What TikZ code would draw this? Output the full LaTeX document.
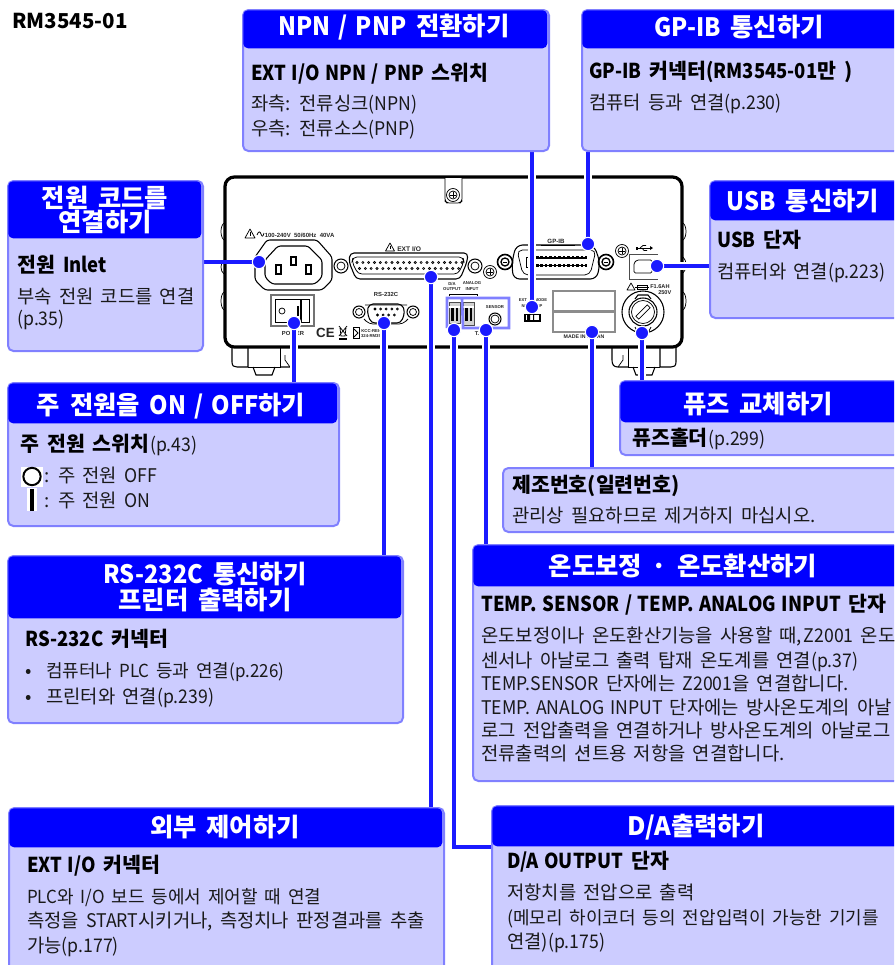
\documentclass[tikz,border=0pt]{standalone}
\usepackage{fontspec}
\setmainfont{Noto Sans CJK KR}[WordSpace=1.7]
\newfontfamily\devfont{Liberation Sans}[Scale=1]
\newfontfamily\latsub{Noto Sans CJK KR}[FakeStretch=0.9,WordSpace=1.3]
\newfontfamily\lattitle{Noto Sans CJK KR}[FakeStretch=0.93,WordSpace=1.5]
\newfontfamily\latbody{Noto Sans CJK KR}[FakeStretch=0.94,WordSpace=1.4]
\newcommand\lb[1]{{\latsub #1}}
\newcommand\lt[1]{{\lattitle #1}}
\newcommand\lr[1]{{\latbody #1}}
\pgfdeclarelayer{devicelayer}
\pgfdeclarelayer{linklayer}
\pgfsetlayers{devicelayer,linklayer,main}
\definecolor{hblue}{HTML}{0000FF}
\definecolor{lblue}{HTML}{1A1AFF}
\definecolor{bfill}{HTML}{CCCCFF}
\definecolor{bedge}{HTML}{8080FF}
\newcounter{tn}
\newcommand\say[4]{\stepcounter{tn}\node[#1] (t\arabic{tn}) at (#2,#3) {#4};}
\newcommand\ibox[5]{\node[bodybox,anchor=north west,minimum width={(#4-#2)*0.75pt},minimum height={(#5-#3)*0.75pt}] (#1) at (#2,#3) {};}
\newcommand\ihead[5]{\node[headbox,anchor=north west,minimum width={(#4-#2-2)*0.75pt},minimum height={(#5-#3-1)*0.75pt}] (#1) at (#2+1,#3+1) {};}
\newcommand\tinyfont[1]{\devfont\bfseries\fontsize{#1}{#1}\selectfont}
\tikzset{
 bodybox/.style={draw=bedge,fill=bfill,line width=1.5pt,rounded corners=4pt,inner sep=0},
 headbox/.style={fill=hblue,rounded corners=3.5pt,inner sep=0},
 ttl/.style={anchor=base,inner sep=0,text=white,font=\bfseries\fontsize{19}{22}\selectfont},
 subh/.style={anchor=base west,inner sep=0,text=black,font=\bfseries\fontsize{15.4}{18}\selectfont},
 bodyt/.style={anchor=base west,inner sep=0,text=black!90,font=\fontsize{14.1}{17}\selectfont},
 bodys/.style={bodyt,font=\fontsize{13.5}{17}\selectfont},
 link/.style={draw=lblue,line width=3pt,preaction={draw=white,line width=6.5pt}},
 linkp/.style={draw=lblue,line width=3pt},
 pdot/.style={circle,fill=lblue,draw=white,line width=0.8pt,minimum size=10pt,inner sep=0},
 dev/.style={draw=black,line width=0.55pt},
 devb/.style={draw=black,line width=0.8pt},
 devt/.style={anchor=center,inner sep=0,text=black!85},
}
\begin{document}
\begin{tikzpicture}[x=0.75pt,y=-0.75pt]
\path[use as bounding box,clip] (0,0) rectangle (894,965);
\begin{pgfonlayer}{devicelayer}
 \fill[white] (0,0) rectangle (894,965);
 % body
 \draw[black,line width=2.4pt,rounded corners=7pt] (225,347) -- (225,177) -- (682,177) -- (682,347) -- cycle;
 % side bumps
 \foreach \a/\b in {223/240,260/274,292/310}{
  \draw[dev] (224,\a) .. controls (220,\a+3) and (220,\b-3) .. (224,\b);
 }
 \foreach \a/\b in {223/240,257/273,292/310}{
  \draw[dev] (683,\a) .. controls (687,\a+3) and (687,\b-3) .. (683,\b);
 }
 % top bracket and screw
 \draw[dev,rounded corners=1.5pt,fill=white] (445,178) -- (445,201) -- (447,203) -- (460,203) -- (462,201) -- (462,178);
 \draw[dev] (453,195) circle[radius=6.5];
 \draw[dev] (453,195) circle[radius=4];
 \draw[dev] (450,195) -- (456,195) (453,192) -- (453,198);
 % feet
 \foreach \o/\s in {232/1,676/-1}{
  \begin{scope}[shift={(\o,0)},xscale=\s]
  \draw[devb] (0,348) -- (0,362) .. controls (0,366) and (2,367) .. (5,367) -- (16,367) -- (16,348);
  \draw[dev] (16,367) -- (48,367) -- (48,348);
  \draw[devb] (21,367) -- (24,375) -- (40,375) -- (43,367);
  \draw[devb] (48,367) -- (58,367) .. controls (62,367) and (64,365) .. (64,360) -- (64,348);
  \draw[dev] (58,367) -- (53,360) -- (53,355);
  \end{scope}
 }
 % AC label
 \draw[dev,line join=round] (250,229) -- (245,238) -- (255,238) -- cycle;
 \draw[dev] (250,232) -- (250,236);
 \draw[dev] (257,235) .. controls (258.5,231) and (260,231) .. (261,234) .. controls (262,237) and (263,237) .. (264,233);
 \node[devt,anchor=west,font=\tinyfont{4.5}] (acl) at (264.5,235) {100-240V\ \ 50/60Hz\ \ 40VA};
 % inlet
 \draw[devb,line join=round,rounded corners=2pt] (267,240) -- (317,240) -- (332,257) -- (332,280) -- (322,290) -- (265,290) -- (255,280) -- (255,257) -- cycle;
 \draw[devb,line join=round,rounded corners=2pt] (278,246) -- (308,246) -- (322,260) -- (322,277) -- (315,284) -- (272,284) -- (265,277) -- (265,260) -- cycle;
 \draw[devb] (276,265) rectangle (281,274) (291,257) rectangle (296,265) (306,265) rectangle (311,274);
 % power switch
 \draw[draw=black!55,line width=1pt] (271,295) rectangle (314,326);
 \draw[dev] (275,299) rectangle (309,322);
 \draw[black,line width=0.8pt] (301,299) -- (301,322);
 \draw[dev] (282,311) circle[radius=3];
 \draw[black,line width=1pt] (298,306) -- (298,316);
 \node[devt,font=\tinyfont{4.4}] (powl) at (293,333) {POWER};
 % CE, bin, KC
 \node[devt,font=\tinyfont{10}] (cem) at (325.5,333) {CE};
 \draw[dev] (339,326) -- (347,336) (347,326) -- (339,336) (340,328) -- (341,336) -- (345,336) -- (346,328);
 \fill[black] (339,337.5) rectangle (347,339.5);
 \draw[dev] (353,327) -- (359,327) -- (359,338) -- (353,338) -- cycle;
 \draw[dev] (354,329) -- (358,333) -- (354,337);
 \node[devt,font=\tinyfont{3.2}] (kc1) at (371,331) {KCC-REI-};
 \node[devt,font=\tinyfont{3.2}] (kc2) at (371,336) {324-RM35};
 % RS-232C
 \node[devt,font=\tinyfont{4.4}] (rsl) at (386,294.5) {RS-232C};
 \foreach \x in {359,413}{
  \draw[devb] (\x,312) circle[radius=6];
  \draw[dev] (\x,312) circle[radius=3.5];
 }
 \draw[dev,rounded corners=3pt] (365,305) -- (407,305) (364,319) -- (369,324) -- (403,324) -- (408,319);
 \draw[devb,rounded corners=3pt] (369,304) -- (402,304) -- (405,312) -- (401,323) -- (371,323) -- (367,312) -- cycle;
 \foreach \x in {0,...,4}{\draw[dev] (375+\x*5.6,309) circle[radius=1];}
 \foreach \x in {0,...,3}{\draw[dev] (377.5+\x*5.6,315) circle[radius=1];}
 % EXT I/O
 \draw[dev,line join=round] (390,243) -- (385.5,251) -- (394.5,251) -- cycle;
 \draw[dev] (390,246) -- (390,249);
 \node[devt,anchor=west,font=\tinyfont{5}] (extl) at (397,249) {EXT I/O};
 \foreach \x in {341,475}{
  \draw[devb] (\x,266) circle[radius=7];
  \draw[dev] (\x,266) circle[radius=4];
 }
 \draw[devb,rounded corners=3pt] (350,253) -- (468,253) -- (467,262) -- (460,279) -- (356,279) -- (349,262) -- cycle;
 \draw[dev,rounded corners=3pt] (353,257) -- (463,257) -- (464,262) -- (458,274) -- (358,274) -- (352,262) -- cycle;
 \foreach \x in {0,...,18}{\draw[dev,line width=0.5pt] (357+\x*5.83,262.5) circle[radius=1.1];}
 \foreach \x in {0,...,17}{\draw[dev,line width=0.5pt] (359.5+\x*5.83,268.5) circle[radius=1.1];}
 \draw[dev] (490,272) circle[radius=6.5];
 \draw[dev] (490,272) circle[radius=4];
 \draw[dev] (487,272) -- (493,272) (490,269) -- (490,275);
 % GP-IB
 \node[devt,font=\tinyfont{4.6}] (gpl) at (556,241.5) {GP-IB};
 \draw[dev] (541,245) -- (575,245);
 \foreach \x in {505,606}{
  \draw[black,line width=1.2pt] (\x,262) circle[radius=7.5];
  \draw[black,line width=1pt] (\x,262) circle[radius=4];
  \draw[dev] (\x-2,262) -- (\x+2,262);
 }
 \draw[devb,rounded corners=5pt] (512,262) -- (516,245) -- (594,245) -- (600,262) -- (597,279) -- (513,279) -- cycle;
 \draw[dev,rounded corners=4pt] (517,250) -- (596,250) -- (590,275) -- (523,275) -- cycle;
 \draw[dev] (526,257) rectangle (534,267);
 \foreach \x in {0,...,11}{
  \fill[black] (536+\x*4.45,256) rectangle (538.5+\x*4.45,259);
  \fill[black] (536+\x*4.45,264) rectangle (538.5+\x*4.45,267);
 }
 \draw[black,line width=0.9pt] (536,258) -- (587,258) (536,265.5) -- (587,265.5);
 \draw[dev] (622,251) circle[radius=6.5];
 \draw[dev] (622,251) circle[radius=4];
 \draw[dev] (619,251) -- (625,251) (622,248) -- (622,254);
 % USB
 \draw[black,line width=0.7pt] (637,248) -- (650,248);
 \fill[black] (650,246) -- (653,248) -- (650,250) -- cycle;
 \fill[black] (635.5,246.5) rectangle (638,249.5);
 \draw[dev] (640,248) -- (643,245.5) -- (646,245.5) (642,248) -- (644,250.5) -- (647,250.5);
 \draw[dev,draw=black!70] (658,254) -- (629,254) -- (629,279) -- (658,279);
 \draw[dev,rounded corners=1pt] (637,260) -- (652,260) -- (652,273) -- (634,273) -- (634,263) -- cycle;
 % fuse
 \draw[dev,line join=round] (631,283) -- (627,290) -- (635,290) -- cycle;
 \draw[dev] (637,285) rectangle (647,289) (635,287) -- (649,287);
 \node[devt,anchor=west,font=\tinyfont{4.2}] (ful) at (650,287) {F1.6AH};
 \node[devt,anchor=west,font=\tinyfont{4.2}] (fuv) at (658,292.5) {250V};
 \draw[devb] (643,312) circle[radius=21];
 \draw[devb] (643,312) circle[radius=14];
 \draw[dev] (643,312) circle[radius=11.5];
 \draw[dev,rotate around={45:(643,312)}] (635,310) rectangle (651,314);
 \draw[devb] (635,299) -- (638,295) -- (648,295) -- (651,299);
 \draw[dev] (635,327) -- (637,331) (651,327) -- (649,331);
 % name plates
 \draw[draw=black!45,line width=0.9pt] (553,291) rectangle (615,311) (553,312) rectangle (615,332);
 \node[devt,font=\tinyfont{3.9}] (madel) at (584,337) {MADE IN JAPAN};
 % DA / analog / sensor
 \node[devt,font=\tinyfont{3.2}] (dal1) at (452,283.5) {D/A};
 \node[devt,font=\tinyfont{3.2}] (dal2) at (452,289) {OUTPUT};
 \node[devt,font=\tinyfont{3.2}] (anl1) at (472,283.5) {ANALOG};
 \node[devt,font=\tinyfont{3.2}] (anl2) at (472,289) {INPUT};
 \draw[dev,line width=0.4pt] (449,296) -- (449,294) -- (477,294) -- (477,296);
 \foreach \xa/\xb/\yb in {449/460/323,463/474/325}{
  \draw[draw=black!70,fill=black!18,line width=0.7pt] (\xa,302) rectangle (\xb,\yb);
  \fill[black] (\xa+2,308) rectangle (\xa+4.5,321);
  \fill[black] (\xa+6.5,308) rectangle (\xa+9,321);
  \draw[white,line width=0.8pt] (\xa,307) -- (\xb,307);
 }
 \draw[bedge,line width=2pt] (447,328) -- (447,298) -- (509,298) -- (509,328) -- (463,328) -- (462,298);
 \node[devt,font=\tinyfont{3.2}] (senl) at (495,307) {SENSOR};
 \draw[devb] (495,319) circle[radius=6];
 \draw[dev] (495,319) circle[radius=4];
 \node[devt,font=\tinyfont{4.2}] (tl) at (477,334) {T.};
 % ext mode
 \node[devt,font=\tinyfont{3.1}] (ml1) at (533,300) {EXT I/O MODE};
 \node[devt,font=\tinyfont{3.1}] (ml2) at (532,306) {NPN\ \ \ PNP};
 \draw[black,line width=1pt] (525,314.5) rectangle (540,321);
 \fill[black] (527,315) rectangle (530,320.5) (533,315) rectangle (534,320.5);
\end{pgfonlayer}

% boxes
\ibox{npn}{242}{9}{548}{150}\ihead{npnh}{242}{9}{548}{48}
\ibox{gpib}{581}{9}{900}{150}\ihead{gpibh}{581}{9}{900}{48}
\ibox{cord}{7}{180}{202}{350}\ihead{cordh}{7}{180}{202}{238}
\ibox{usb}{709}{180}{900}{317}\ihead{usbh}{709}{180}{900}{220}
\ibox{mains}{7}{382}{338}{525}\ihead{mainsh}{7}{382}{338}{423}
\ibox{rs}{7}{555}{402}{722}\ihead{rsh}{7}{555}{402}{618}
\ibox{fuse}{619}{380}{900}{454}\ihead{fuseh}{619}{380}{900}{422}
\ibox{serial}{502}{467}{900}{531}
\ibox{temp}{472}{544}{900}{780}\ihead{temph}{472}{544}{900}{586}
\ibox{extio}{8}{807}{443}{975}\ihead{extioh}{8}{807}{443}{847}
\ibox{da}{491}{805}{900}{975}\ihead{dah}{491}{805}{900}{846}

% dots
\node[pdot] (dinlet) at (259,262) {};
\node[pdot] (dsw) at (294,323) {};
\node[pdot] (drs) at (384,323) {};
\node[pdot] (dext) at (431,277) {};
\node[pdot] (dda) at (454,330) {};
\node[pdot] (dsen) at (486,330) {};
\node[pdot] (dmode) at (532,307) {};
\node[pdot] (dgp) at (588,244) {};
\node[pdot] (dusb) at (657,266) {};
\node[pdot] (dfuse) at (642,333) {};
\node[pdot] (dser) at (592,332) {};

\begin{pgfonlayer}{linklayer}
 \draw[linkp] (dinlet.center) -- (dinlet.center -| cord.east);
 \draw[link] (dusb.center) -- (dusb.center -| usb.west);
 \draw[link] (dmode.center) -- (dmode.center |- npn.south);
 \draw[link] (dgp.center) -- (dgp.center |- gpib.south);
 \draw[link] (dsw.center) -- (dsw.center |- mains.north);
 \draw[link] (drs.center) -- (drs.center |- rs.north);
 \draw[link] (dext.center) -- (dext.center |- extio.north);
 \draw[link] (dda.center) |- (da.west |- dah.south);
 \draw[link] (dsen.center) -- (dsen.center |- temp.north);
 \draw[link] (dfuse.center) -- (dfuse.center |- fuse.north);
 \draw[link] (dser.center) -- (dser.center |- serial.north);
\end{pgfonlayer}

% texts
\say{anchor=base west,inner sep=0,font=\bfseries\fontsize{15.4}{18}\selectfont}{12}{28}{RM3545-01}

\say{ttl}{394}{35}{\lt{NPN / PNP} 전환하기}
\say{subh}{251}{80}{\lb{EXT I/O NPN / PNP} 스위치}
\say{bodyt}{251}{110}{좌측: 전류싱크\lr{(NPN)}}
\say{bodyt}{251}{135}{우측: 전류소스\lr{(PNP)}}

\say{ttl}{739}{36}{\lt{GP-IB} 통신하기}
\say{subh}{589}{78}{\lb{GP-IB} 커넥터\lb{(RM3545-01}만 )}
\say{bodyt}{589}{109}{컴퓨터 등과 연결\lr{(p.230)}}

\say{ttl}{105}{207}{전원 코드를}
\say{ttl}{105}{231}{연결하기}
\say{subh}{17}{272}{전원 \lb{Inlet}}
\say{bodyt}{17}{303}{부속 전원 코드를 연결}
\say{bodyt}{17}{325}{\lr{(p.35)}}

\say{ttl}{803}{210}{\lt{USB} 통신하기}
\say{subh}{717}{247}{\lb{USB} 단자}
\say{bodyt}{717}{278}{컴퓨터와 연결\lr{(p.223)}}

\say{ttl}{171}{414}{주 전원을 \lt{ON / OFF}하기}
\say{subh}{20}{451}{주 전원 스위치}
\node[bodyt,anchor=base west] (mp) at (t\arabic{tn}.base east) {\lr{(p.43)}};
\fill[white] (21,467) rectangle (43,487);
\node[circle,draw=black,line width=1.5pt,fill=white,minimum size=13pt,inner sep=0] (iconoff) at (32,476.5) {};
\node[fill=white,minimum width=7pt,minimum height=17pt,inner sep=0] (iconback) at (32,499.5) {};
\node[fill=black,minimum width=3.6pt,minimum height=16.5pt,inner sep=0] (iconon) at (32,499.5) {};
\say{bodyt}{44}{482}{: 주 전원 \lr{OFF}}
\say{bodyt}{44}{507}{: 주 전원 \lr{ON}}

\say{ttl}{205}{583}{\lt{RS-232C} 통신하기}
\say{ttl}{205}{609}{프린터 출력하기}
\say{subh}{25}{646}{\lb{RS-232C} 커넥터}
\say{bodyt}{25}{677}{•}
\say{bodys}{46}{677}{컴퓨터나 \lr{PLC} 등과 연결\lr{(p.226)}}
\say{bodyt}{25}{703}{•}
\say{bodyt}{46}{703}{프린터와 연결\lr{(p.239)}}

\say{ttl}{758}{413}{퓨즈 교체하기}
\say{subh}{632}{445}{퓨즈홀더}
\node[bodyt,anchor=base west] (fp) at (t\arabic{tn}.base east) {\lr{(p.299)}};

\say{subh}{512}{492}{제조번호(일련번호)}
\say{bodyt}{512}{522}{관리상 필요하므로 제거하지 마십시오.}

\say{ttl}{683}{575}{온도보정 · 온도환산하기}
\say{subh}{481}{611}{\lb{TEMP. SENSOR / TEMP. ANALOG INPUT} 단자}
\say{bodyt}{481}{642}{온도보정이나 온도환산기능을 사용할 때,\kern-4pt{} \lr{Z2001} 온도}
\say{bodyt}{481}{667}{센서나 아날로그 출력 탑재 온도계를 연결\lr{(p.37)}}
\say{bodyt}{481}{690}{\lr{TEMP.SENSOR} 단자에는 \lr{Z2001}을 연결합니다.}
\say{bodyt}{481}{714}{\lr{TEMP. ANALOG INPUT} 단자에는 방사온도계의 아날}
\say{bodyt}{481}{737}{로그 전압출력을 연결하거나 방사온도계의 아날로그}
\say{bodyt}{481}{760}{전류출력의 션트용 저항을 연결합니다.}

\say{ttl}{225}{836}{외부 제어하기}
\say{subh}{27}{872}{\lb{EXT I/O} 커넥터}
\say{bodys}{27}{903}{\lr{PLC}와 \lr{I/O} 보드 등에서 제어할 때 연결}
\say{bodyt}{27}{927}{측정을 \lr{START}시키거나, 측정치나 판정결과를 추출}
\say{bodyt}{27}{952}{가능\lr{(p.177)}}

\say{ttl}{696}{835}{D/A출력하기}
\say{subh}{507}{868}{\lb{D/A OUTPUT} 단자}
\say{bodyt}{507}{899}{저항치를 전압으로 출력}
\say{bodys}{507}{924}{(메모리 하이코더 등의 전압입력이 가능한 기기를}
\say{bodyt}{507}{948}{연결)\lr{(p.175)}}
\end{tikzpicture}
\end{document}
